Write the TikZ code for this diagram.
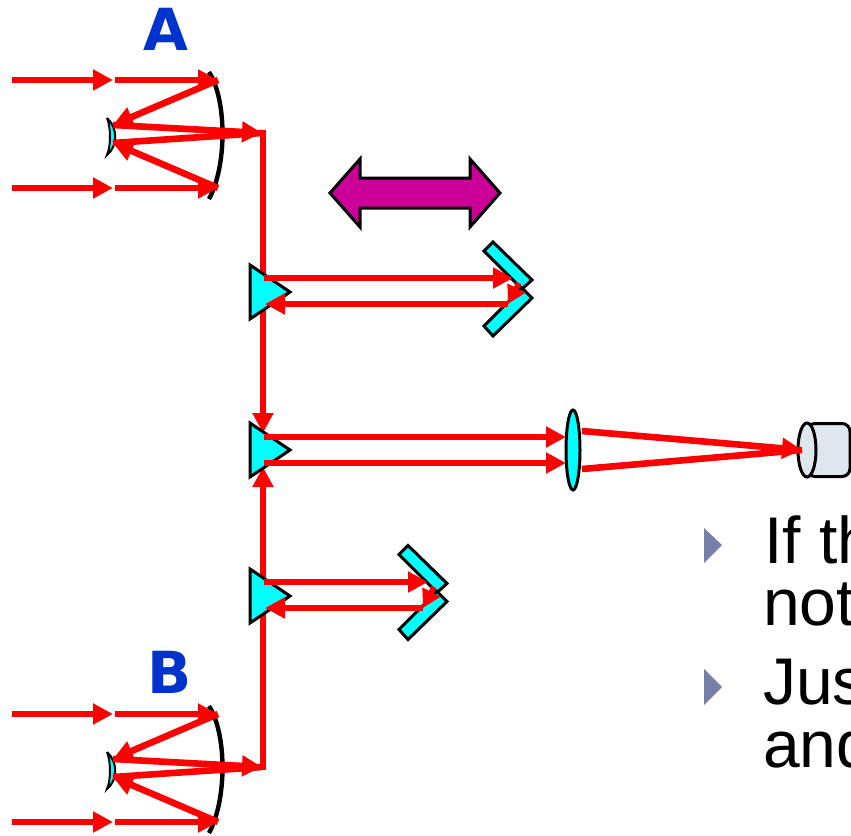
\documentclass[tikz,border=0pt]{standalone}
\usepackage{fontspec}
\setmainfont{Liberation Sans}
\newfontfamily\labelfont{DejaVu Sans}
\usetikzlibrary{arrows.meta}
\definecolor{beamred}{HTML}{FF0000}
\definecolor{optcyan}{HTML}{00FFFF}
\definecolor{labelblue}{HTML}{0033CC}
\definecolor{stagemag}{HTML}{CC0099}
\definecolor{bulletblue}{HTML}{7680A8}
\definecolor{detgrey}{HTML}{DEE8EC}
\tikzset{
  beam/.style={draw=beamred,line width=6.6pt},
  arrbeam/.style={beam,-{Triangle[length=20pt,width=20pt]}},
  smallbeam/.style={beam,line width=5.5pt,-{Triangle[length=18pt,width=19pt]}},
  optic/.style={draw=black,fill=optcyan,line width=3pt,line join=miter},
  bodytext/.style={anchor=base west,inner sep=0pt,font=\fontsize{66}{66}\selectfont},
  bullet/.style={fill=bulletblue},
  telelabel/.style={inner sep=0pt,text=labelblue,font=\labelfont\bfseries\fontsize{58}{58}\selectfont}
}
\newcommand{\telescopeoptics}{%
  \draw[black,line width=4.4pt] (209,72) .. controls (227,100) and (227,166) .. (209,199);
  \draw[black,fill=optcyan,line width=2pt] (107,118) .. controls (118,128) and (118,146) .. (107,155)
     .. controls (111,146) and (111,128) .. (107,118);
}
\newcommand{\telescopebeams}{%
  \coordinate (i1) at (12,80);  \coordinate (i2) at (113,80);
  \coordinate (i3) at (115,80); \coordinate (p1) at (218,80);
  \coordinate (j1) at (12,188); \coordinate (j2) at (113,188);
  \coordinate (j3) at (115,188);\coordinate (p2) at (218,188);
  \coordinate (s1) at (113,125);\coordinate (s2) at (113,143);
  \draw[arrbeam] (i1) -- (i2);
  \draw[arrbeam] (i3) -- (p1);
  \draw[arrbeam] (j1) -- (j2);
  \draw[arrbeam] (j3) -- (p2);
  \draw[arrbeam] (p1) -- (s1);
  \draw[arrbeam] (p2) -- (s2);
  \draw[beam] (s2) -- (262,133);
  \draw[arrbeam] (s1) -- (262,133);
}
\newcommand{\roofmirror}{%
  \draw[optic] (493,242) -- (532,280) -- (522,289) -- (484,251) -- cycle;
  \draw[optic] (522,288) -- (532,298) -- (493,336) -- (484,326) -- cycle;
}
\newcommand{\prism}{%
  \draw[optic] (250,265) -- (290,292) -- (250,319) -- cycle;
}
\begin{document}
\begin{tikzpicture}[x=1pt,y=-1pt]
\useasboundingbox (0,0) rectangle (851,835);
\clip (0,0) rectangle (851,835);
% labels
\node[telelabel] (labA) at (166,29) {A};
\node[telelabel] (labB) at (170,672) {B};
% translation-stage arrow
\draw[fill=stagemag,draw=black,line width=3pt,line join=miter]
  (330,193) -- (360,159) -- (360,178) -- (470,178) -- (470,159) -- (500,193)
  -- (470,227) -- (470,208) -- (360,208) -- (360,227) -- cycle;
% mirrors of the telescopes
\telescopeoptics
\begin{scope}[shift={(0,634)}]\telescopeoptics\end{scope}
% vertical beams (under the prisms)
\coordinate (cornerA) at (263,130);
\coordinate (prismOneOut) at (263,304);
\coordinate (prismTwoIn) at (263,433);
\coordinate (cornerB) at (263,770);
\coordinate (prismTwoInB) at (263,467);
\draw[beam] (cornerA) -- (263,280);
\draw[arrbeam] (prismOneOut) -- (prismTwoIn);
\draw[arrbeam] (cornerB) -- (prismTwoInB);
% delay-line mirrors and beam splitters
\roofmirror
\begin{scope}[shift={(-85,303.5)}]\roofmirror\end{scope}
\prism
\begin{scope}[shift={(0,158)}]\prism\end{scope}
\begin{scope}[shift={(0,304)}]\prism\end{scope}
% lens and detector
\draw[optic] (573,450) ellipse [x radius=7,y radius=40];
\draw[black,fill=detgrey,line width=3pt,rounded corners=8pt]
  (807,423.5) -- (850,423.5) -- (850,476.5) -- (807,476.5) -- cycle;
\draw[black,fill=detgrey,line width=3pt] (807,450) ellipse [x radius=9,y radius=27];
% beams over optics
\begin{scope}\telescopebeams\end{scope}
\begin{scope}[shift={(0,634)}]\telescopebeams\end{scope}
% upper delay line
\coordinate (a1) at (264,278); \coordinate (a2) at (513,278);
\coordinate (a3) at (519,283); \coordinate (a4) at (508,304);
\coordinate (a5) at (508,304); \coordinate (a6) at (265,304);
\draw[arrbeam] (a1) -- (a2);
\draw[smallbeam] (a3) -- (a4);
\draw[arrbeam] (a5) -- (a6);
% lower delay line
\coordinate (b1) at (264,582); \coordinate (b2) at (428,582);
\coordinate (b3) at (434,587); \coordinate (b4) at (423,608);
\coordinate (b5) at (423,608); \coordinate (b6) at (265,608);
\draw[arrbeam] (b1) -- (b2);
\draw[smallbeam] (b3) -- (b4);
\draw[arrbeam] (b5) -- (b6);
% central beams to the lens and the detector
\coordinate (c1) at (264,437); \coordinate (c2) at (566,437);
\coordinate (d1) at (264,463); \coordinate (d2) at (566,463);
\coordinate (l1) at (582,431); \coordinate (l2) at (582,469);
\coordinate (f) at (802,450);
\draw[arrbeam] (c1) -- (c2);
\draw[arrbeam] (d1) -- (d2);
\draw[beam] (l2) -- (f);
\draw[arrbeam] (l1) -- (f);
% bullets and text
\fill[bullet] (704,528) -- (722,545) -- (704,563) -- cycle;
\fill[bullet] (704,669) -- (722,687) -- (704,705) -- cycle;
\node[bodytext] (t1) at (764,563) {If th};
\node[bodytext] (t2) at (763,625) {not};
\node[bodytext] (t3) at (763,704) {Jus};
\node[bodytext] (t4) at (763,767) {and};
\end{tikzpicture}
\end{document}
